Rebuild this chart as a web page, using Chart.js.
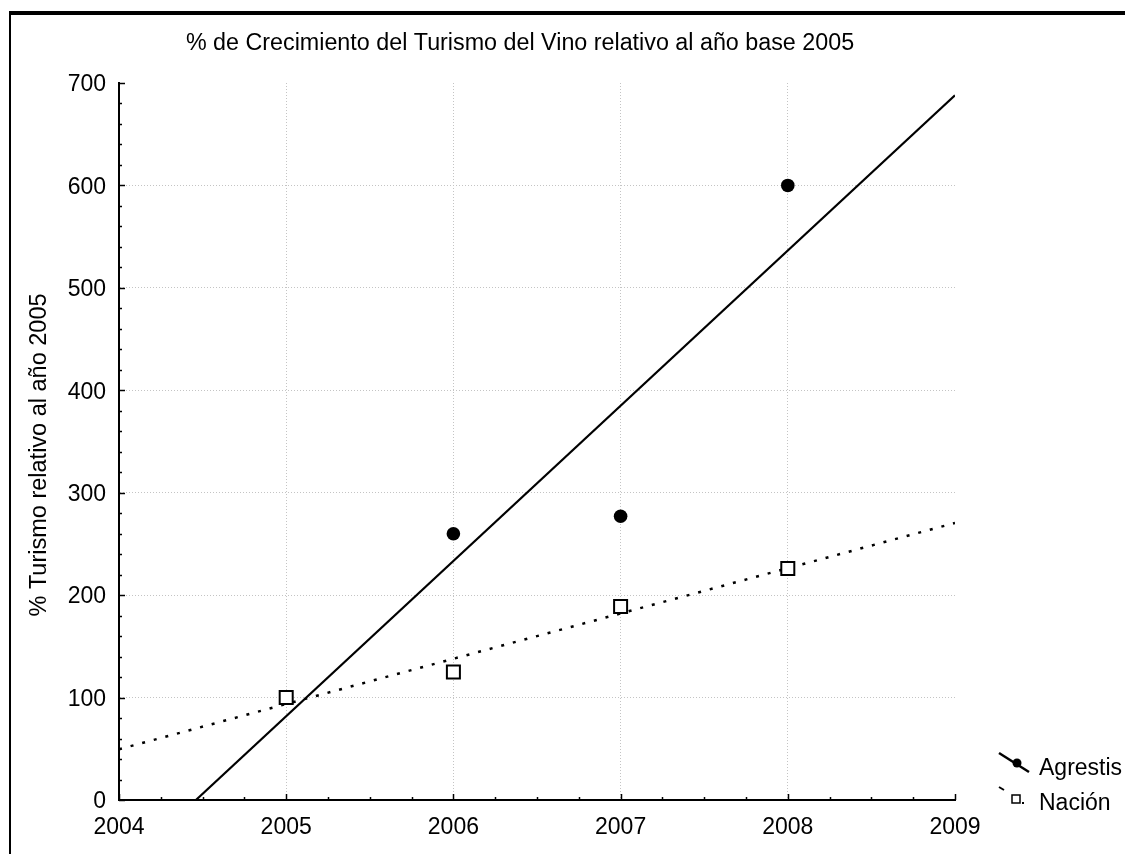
<!DOCTYPE html>
<html>
<head>
<meta charset="utf-8">
<script src="https://cdn.jsdelivr.net/npm/chart.js@4"></script>
<style>
  html, body { margin: 0; padding: 0; background: #fff; }
  #wrap { position: relative; width: 1125px; height: 854px; overflow: hidden; }
  #frame { position: absolute; left: 9px; top: 11px; width: 1200px; height: 900px;
           border-top: 4px solid #000; border-left: 2px solid #000; pointer-events: none; }
  canvas { position: absolute; left: 0; top: 0; }
</style>
</head>
<body>
<div id="wrap">
  <canvas id="c" width="1125" height="854"></canvas>
  <div id="frame"></div>
</div>
<script>
// ---- data ----
const chartTitle = '% de Crecimiento del Turismo del Vino relativo al año base 2005';
const yAxisTitle = '% Turismo relativo al año 2005';
const seriesNames = ['Agrestis', 'Nación'];
const years = [2005, 2006, 2007, 2008];
const agrestis = [100, 260, 277, 600];
const nacion = [100, 125, 189, 226];
// fitted trend lines (endpoints)
const agrestisFitX = [2004.46, 2009];
const agrestisFitY = [0, 688];
const nacionFitX = [2004, 2009];
const nacionFitY = [49.5, 270.5];
const xTicks = [2004, 2005, 2006, 2007, 2008, 2009];
const yTicks = [0, 100, 200, 300, 400, 500, 600, 700];

const toPts = (xs, ys) => xs.map((x, i) => ({x: x, y: ys[i]}));
const FONT = '"Liberation Sans", Arial, sans-serif';

const minorTicks = {
  id: 'minorTicks',
  afterDatasetsDraw(chart) {
    const ctx = chart.ctx, xs = chart.scales.x, ys = chart.scales.y;
    const left = chart.chartArea.left, bottom = chart.chartArea.bottom;
    ctx.save();
    ctx.strokeStyle = '#000';
    ctx.lineWidth = 1.5;
    for (let v = yTicks[0]; v <= yTicks[yTicks.length - 1] + 1e-9; v += 20) {
      const p = Math.round(ys.getPixelForValue(v)) + 0.5;
      const len = (Math.abs(v % 100) < 1e-6) ? 6 : 3;
      ctx.beginPath(); ctx.moveTo(left, p); ctx.lineTo(left + len, p); ctx.stroke();
    }
    for (let v = xTicks[0]; v <= xTicks[xTicks.length - 1] + 1e-9; v += 0.25) {
      const p = Math.round(xs.getPixelForValue(v)) + 0.5;
      const len = (Math.abs(v - Math.round(v)) < 1e-6) ? 6 : 3;
      ctx.beginPath(); ctx.moveTo(p, bottom); ctx.lineTo(p, bottom - len); ctx.stroke();
    }
    ctx.restore();
  }
};

const titleAndLegend = {
  id: 'titleAndLegend',
  afterDraw(chart) {
    const ctx = chart.ctx;
    ctx.save();
    ctx.fillStyle = '#000';
    ctx.font = '23.3px ' + FONT;
    ctx.textAlign = 'center';
    ctx.textBaseline = 'middle';
    ctx.fillText(chartTitle, 520, 44);

    // y axis title
    ctx.save();
    ctx.translate(40, 455);
    ctx.rotate(-Math.PI / 2);
    ctx.font = '23.5px ' + FONT;
    ctx.fillText(yAxisTitle, 0, 0);
    ctx.restore();

    // legend
    ctx.strokeStyle = '#000';
    ctx.lineWidth = 2.5;
    ctx.beginPath(); ctx.moveTo(999, 753); ctx.lineTo(1029, 772); ctx.stroke();
    ctx.beginPath(); ctx.arc(1017, 763, 4.5, 0, Math.PI * 2); ctx.fill();
    ctx.lineWidth = 2;
    ctx.beginPath(); ctx.moveTo(999, 787); ctx.lineTo(1004, 790); ctx.stroke();
    ctx.fillStyle = '#fff';
    ctx.lineWidth = 1.5;
    ctx.fillRect(1012, 795, 8, 8);
    ctx.strokeRect(1012, 795, 8, 8);
    ctx.fillStyle = '#000';
    ctx.fillRect(1022, 802, 2, 2);
    ctx.font = '23px ' + FONT;
    ctx.textAlign = 'left';
    ctx.fillText(seriesNames[0], 1039, 769);
    ctx.fillText(seriesNames[1], 1039, 804);
    ctx.restore();
  }
};

const gridColor = (c) => {
  const v = c.tick ? c.tick.value : null;
  return (v === 0 || v === 700 || v === 2004 || v === 2009) ? 'rgba(0,0,0,0)' : '#c4c4c4';
};

new Chart(document.getElementById('c'), {
  type: 'scatter',
  data: {
    datasets: [
      {
        label: seriesNames[1],
        data: toPts(years, nacion),
        pointStyle: 'rect',
        pointRadius: 9.2,
        pointHoverRadius: 9.2,
        pointBorderWidth: 2,
        borderColor: '#000',
        backgroundColor: '#fff',
        order: 0
      },
      {
        label: seriesNames[0],
        data: toPts(years, agrestis),
        pointStyle: 'circle',
        pointRadius: 6.8,
        pointBorderWidth: 0,
        borderColor: '#000',
        backgroundColor: '#000',
        order: 1
      },
      {
        label: seriesNames[0] + ' fit',
        data: toPts(agrestisFitX, agrestisFitY),
        showLine: true,
        pointRadius: 0,
        borderColor: '#000',
        borderWidth: 2.2,
        order: 2
      },
      {
        label: seriesNames[1] + ' fit',
        data: toPts(nacionFitX, nacionFitY),
        showLine: true,
        pointRadius: 0,
        borderColor: '#000',
        borderWidth: 2.5,
        borderDash: [3, 9],
        order: 3
      }
    ]
  },
  options: {
    responsive: false,
    devicePixelRatio: 1,
    animation: false,
    events: [],
    layout: { padding: { left: 0, top: 83, right: 170, bottom: 0 } },
    plugins: { legend: { display: false }, title: { display: false }, tooltip: { enabled: false } },
    scales: {
      x: {
        type: 'linear',
        min: xTicks[0], max: xTicks[xTicks.length - 1],
        afterBuildTicks: (s) => { s.ticks = xTicks.map(v => ({value: v})); },
        afterFit: (s) => { s.height = 54; },
        ticks: {
          font: { family: FONT, size: 23 },
          color: '#000',
          padding: 14,
          maxRotation: 0,
          autoSkip: false,
          callback: (v) => String(v)
        },
        grid: { color: gridColor, lineWidth: 1, drawTicks: false },
        border: { display: true, color: '#000', width: 2, dash: [1, 2] }
      },
      y: {
        min: yTicks[0], max: yTicks[yTicks.length - 1],
        afterBuildTicks: (s) => { s.ticks = yTicks.map(v => ({value: v})); },
        afterFit: (s) => { s.width = 119; },
        ticks: {
          font: { family: FONT, size: 23 },
          color: '#000',
          padding: 13,
          labelOffset: 2,
          autoSkip: false
        },
        grid: { color: gridColor, lineWidth: 1, drawTicks: false },
        border: { display: true, color: '#000', width: 2, dash: [1, 2] },
        title: { display: false }
      }
    }
  },
  plugins: [minorTicks, titleAndLegend]
});
</script>
</body>
</html>
